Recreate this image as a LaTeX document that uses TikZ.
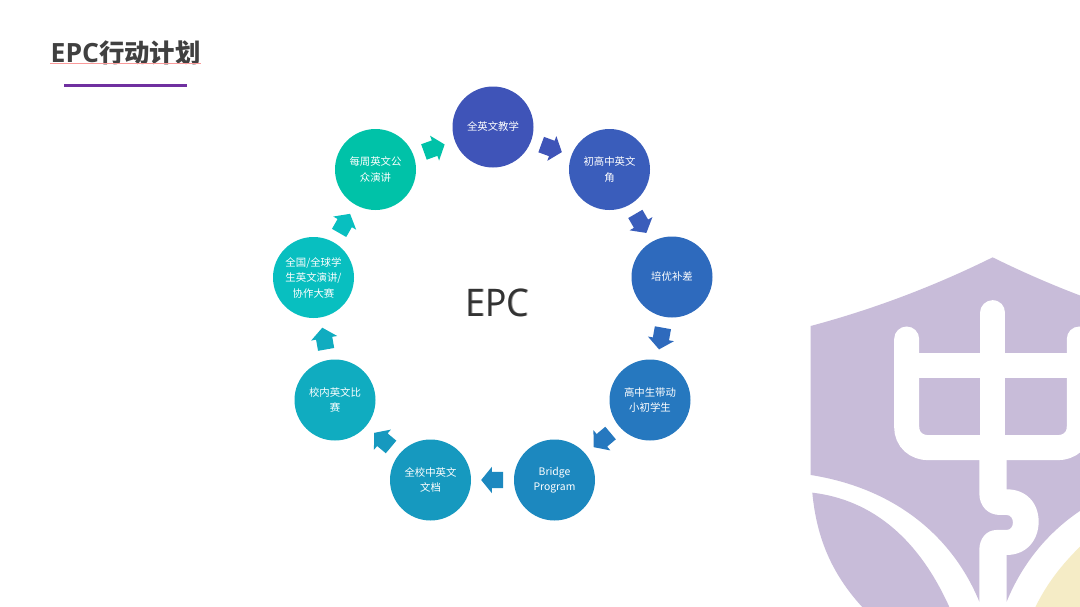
\documentclass[tikz,border=0pt]{standalone}
\usepackage{fontspec}
\usetikzlibrary{shapes.arrows}
\setmainfont{Open Sans}
\newfontfamily\cjk{Noto Sans CJK SC}
\definecolor{logopurple}{HTML}{C8BCD9}
\definecolor{logoyellow}{HTML}{F5ECC6}
\definecolor{titlegray}{HTML}{404040}
\definecolor{rulepurple}{HTML}{7030A0}
\definecolor{wavepink}{HTML}{FA9A9A}
\definecolor{ca}{HTML}{3F54B8}
\definecolor{cb}{HTML}{3A5DBB}
\definecolor{cc}{HTML}{2E6ABD}
\definecolor{cd}{HTML}{2678BF}
\definecolor{ce}{HTML}{1C88BF}
\definecolor{cf}{HTML}{1699BF}
\definecolor{cg}{HTML}{10ACC0}
\definecolor{ch}{HTML}{08BFC0}
\definecolor{ci}{HTML}{00C2A8}
\newcommand{\shaft}{\rule{0pt}{16pt}}
\tikzset{
  disc/.style={circle,minimum size=81pt,inner sep=0pt,text=white,align=center,
    font=\cjk\fontsize{10.4}{15.5}\selectfont},
  blockarrow/.style={single arrow,draw=none,fill=#1,minimum height=22pt,minimum width=26pt,
    inner sep=0pt,single arrow head extend=5pt,single arrow tip angle=102,
    sloped,allow upside down,pos=.244,anchor=tail}
}
\begin{document}
\begin{tikzpicture}[x=1pt,y=-1pt]
\useasboundingbox (0,0) rectangle (1080,606);
\fill[white] (0,0) rectangle (1080,606);
% logo
\begin{scope}
\clip (0,0) rectangle (1080,606);
\begin{scope}[x=0.3333pt,y=-0.3333pt,shift={(780pt,-240pt)}]
\fill[logopurple] (92,258) .. controls (290,205) and (470,135) .. (638,52)
  .. controls (806,135) and (986,205) .. (1184,258)
  -- (1184,705) .. controls (930,745) and (760,890) .. (680,1085)
  -- (598,1085) .. controls (518,890) and (346,745) .. (92,705) -- cycle;
\fill[logopurple] (97,758) .. controls (280,780) and (420,900) .. (512,1110)
  -- (255,1110) .. controls (160,1010) and (110,900) .. (97,758) -- cycle;
\fill[logoyellow] (900,920) .. controls (845,975) and (800,1030) .. (762,1110)
  -- (900,1110) -- cycle;
\draw[white,line width=25pt,line cap=round] (639,218) -- (639,690);
\draw[white,line width=25pt] (380,377) -- (900,377);
\draw[white,line width=25pt,line cap=round] (380,297) -- (380,560)
  .. controls (380,600) and (410,623) .. (445,623) -- (833,623)
  .. controls (868,623) and (898,600) .. (898,560) -- (898,297);
\fill[white] (598,660) -- (598,760) .. controls (598,800) and (625,825) .. (660,825)
  -- (680,825) .. controls (705,825) and (705,870) .. (680,870) -- (650,870)
  .. controls (620,870) and (598,895) .. (598,930) -- (598,1110) -- (680,1110) -- (680,945)
  .. controls (740,945) and (776,900) .. (776,845)
  .. controls (776,790) and (740,748) .. (680,748) -- (680,660) -- cycle;
\end{scope}
\end{scope}
% title
\node[anchor=base west,inner sep=0pt,text=titlegray,font=\bfseries\fontsize{26.5}{30}\selectfont] (title) at (50.5,62.5)
  {EPC{\cjk\bfseries\fontsize{25.4}{30}\selectfont 行动计划}};
\draw[wavepink,line width=1pt] (50,63.5) -- (201,63.5);
\draw[rulepurple,line width=2.5pt] (64,85.5) -- (187,85.5);
% centre
\node[text=black!40,font=\fontsize{38}{46}\selectfont,inner sep=0pt,xscale=.93] at (497.7,303.2) {EPC};
\node[text=black!80,font=\fontsize{38}{46}\selectfont,inner sep=0pt,xscale=.93] (centre) at (497,302.5) {EPC};
% discs
\node[disc,fill=ca] (n1) at (493,127) {全英文教学};
\node[disc,fill=cb] (n2) at (609.5,169.5) {初高中英文\\角};
\node[disc,fill=cc] (n3) at (672,277) {培优补差};
\node[disc,fill=cd] (n4) at (650,400) {高中生带动\\小初学生};
\node[disc,fill=ce] (n5) at (554.5,480) {Bridge\\Program};
\node[disc,fill=cf] (n6) at (430.5,480) {全校中英文\\文档};
\node[disc,fill=cg] (n7) at (335,400) {校内英文比\\赛};
\node[disc,fill=ch] (n8) at (313.5,277.5) {全国/全球学\\生英文演讲/\\协作大赛};
\node[disc,fill=ci] (n9) at (375.5,169.5) {每周英文公\\众演讲};
% arrows
\path (n1) -- node[blockarrow=ca] (a1) {\shaft} (n2);
\path (n2) -- node[blockarrow=cb] (a2) {\shaft} (n3);
\path (n3) -- node[blockarrow=cc] (a3) {\shaft} (n4);
\path (n4) -- node[blockarrow=cd] (a4) {\shaft} (n5);
\path (n5) -- node[blockarrow=ce] (a5) {\shaft} (n6);
\path (n6) -- node[blockarrow=cf] (a6) {\shaft} (n7);
\path (n7) -- node[blockarrow=cg] (a7) {\shaft} (n8);
\path (n8) -- node[blockarrow=ch] (a8) {\shaft} (n9);
\path (n9) -- node[blockarrow=ci] (a9) {\shaft} (n1);
\end{tikzpicture}
\end{document}
